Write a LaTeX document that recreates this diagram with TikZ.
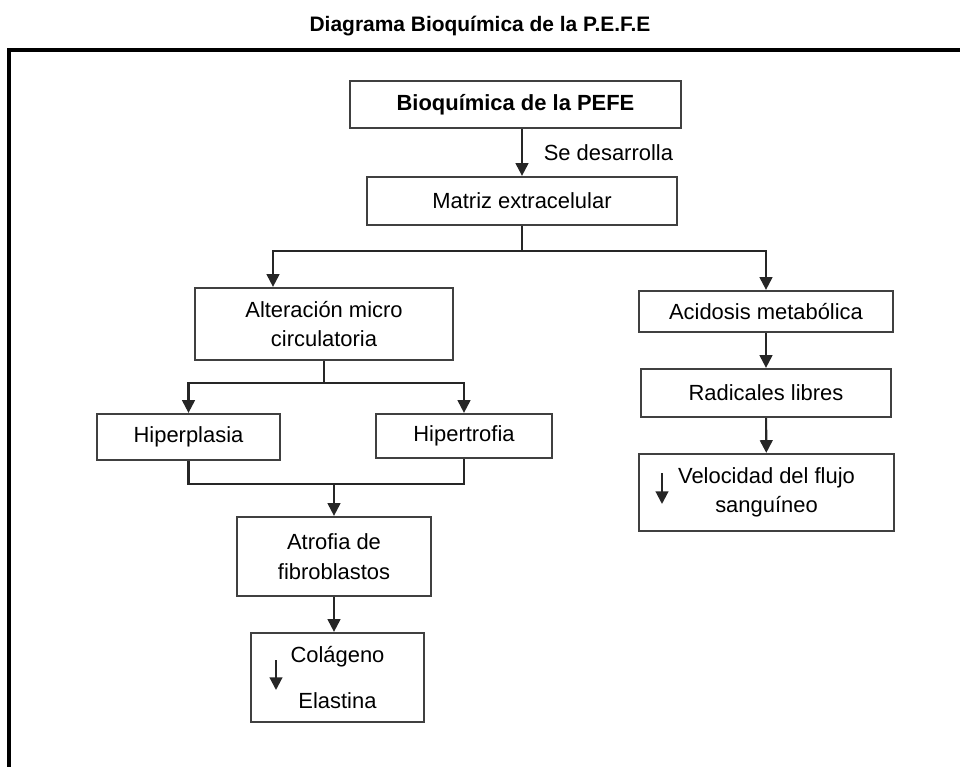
\documentclass[tikz,border=0pt]{standalone}
\usepackage{fontspec}
\setmainfont{Liberation Sans}
\usetikzlibrary{arrows.meta,positioning}

\newcommand\pxu{0.025cm}

\begin{document}
\begin{tikzpicture}[x=0.025cm,y=-0.025cm,
    box/.style={draw=black!75,line width=1.6pt,align=center,inner sep=0pt,
        font=\fontsize{15.6}{21}\selectfont},
    conn/.style={draw=black!85,line width=1.5pt,-{Triangle[length=9pt,width=9pt]}},
    link/.style={draw=black!85,line width=1.5pt}]

    \useasboundingbox (0,0) rectangle (960,767);

    % frame and title
    \draw [line width=2.2pt] (9,767) -- (9,50) -- (960,50);
    \node (title) at (480,26) {\fontsize{14.9}{18}\selectfont\bfseries Diagrama Bioquímica de la P.E.F.E};

    \node [box,minimum width=331*\pxu,minimum height=47*\pxu] (bioq) at (515.5,104.5) {\bfseries Bioquímica de la PEFE};
    \node [box,minimum width=310*\pxu,minimum height=48*\pxu] (matriz) at (522,201) {Matriz extracelular};

    \node [box,minimum width=258*\pxu,minimum height=72*\pxu] (alter) at (324,324) {Alteración micro\\circulatoria};
    \node [box,minimum width=183*\pxu,minimum height=46*\pxu] (hiperp) at (188.5,437) {Hiperplasia};
    \node [box,minimum width=176*\pxu,minimum height=44*\pxu] (hipert) at (464,436) {Hipertrofia};
    \node [box,minimum width=194*\pxu,minimum height=79*\pxu] (atrof) at (334,556.5) {Atrofia de\\fibroblastos};
    \node [box,minimum width=173*\pxu,minimum height=89*\pxu] (colag) at (337.5,677.5) {Colágeno\\[12pt]Elastina};

    \node [box,minimum width=254*\pxu,minimum height=41*\pxu] (acid) at (766,311.5) {Acidosis metabólica};
    \node [box,minimum width=250*\pxu,minimum height=48*\pxu] (radic) at (766,393) {Radicales libres};
    \node [box,minimum width=255*\pxu,minimum height=77*\pxu] (veloc) at (766.5,492.5) {Velocidad del flujo\\sanguíneo};

    % connectors
    \draw [conn] (matriz.north |- bioq.south) -- (matriz.north)
        node [pos=0.5,right=0.4cm,font=\fontsize{15.6}{21}\selectfont] (desarr) {Se desarrolla};

    \draw [link] (matriz.south) -- ++(0,25) coordinate (split1);
    \draw [conn] (split1) -| ([xshift=-51*\pxu]alter.north);
    \draw [conn] (split1) -| (acid.north);

    \draw [link] (alter.south) -- ++(0,22) coordinate (split2);
    \draw [conn] (split2) -| (hiperp.north);
    \draw [conn] (split2) -| (hipert.north);

    \draw [link] (hiperp.south) -- ++(0,23) coordinate (merge) -| (hipert.south);
    \draw [conn] (merge -| atrof.north) -- (atrof.north);
    \draw [conn] (atrof.south) -- (atrof.south |- colag.north);

    \draw [conn] (acid) -- (radic);
    \draw [conn] (radic) -- (veloc);

    % small arrows inside the boxes
    \draw [conn] ([shift={(-61.5,-17.5)}]colag.center) -- ++(0,30);
    \draw [conn] ([shift={(-104.5,-19.5)}]veloc.center) -- ++(0,31);

\end{tikzpicture}
\end{document}
